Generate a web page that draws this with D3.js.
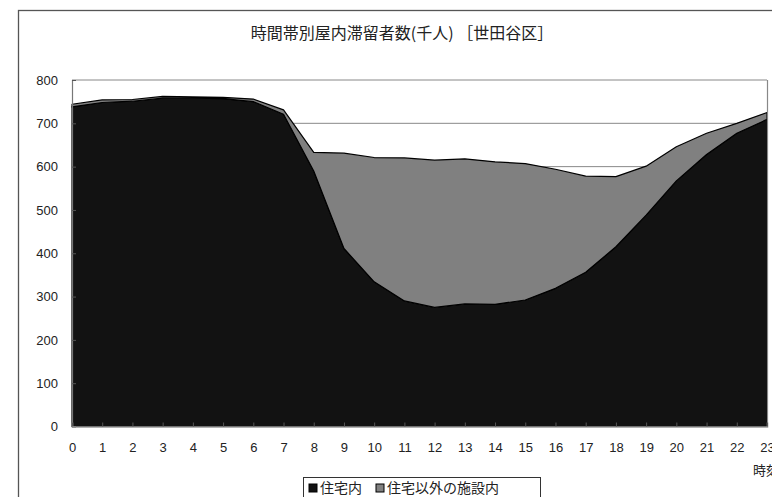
<!DOCTYPE html>
<html>
<head>
<meta charset="utf-8">
<script src="https://cdn.jsdelivr.net/npm/d3@7"></script>
<style>
  html, body { margin: 0; padding: 0; background: #fff; }
  svg { display: block; }
  text { font-family: "Liberation Sans", Arial, "Noto Sans CJK JP", sans-serif; fill: #222; }
  .jp { font-family: "Noto Sans CJK JP", sans-serif; }
</style>
</head>
<body>
<svg id="chart" width="772" height="497"></svg>
<script>
// Hours of the day (0-23)
const hours = [0,1,2,3,4,5,6,7,8,9,10,11,12,13,14,15,16,17,18,19,20,21,22,23];
// Persons indoors at home (thousands)
const atHome = [738,748,751,758,758,757,750,721,590,411,334,290,275,283,282,292,319,356,415,488,567,628,677,709];
// Persons indoors at facilities other than home (thousands)
const atOther = [6,6,4,4,3,3,6,10,43,220,287,330,340,335,329,315,275,222,162,113,79,49,23,16];
const yTicks = [0,100,200,300,400,500,600,700,800];
const seriesNames = ["住宅内", "住宅以外の施設内"];
const seriesColors = ["#121212", "#808080"];
const titleText = "時間帯別屋内滞留者数(千人) ［世田谷区］";
const xAxisTitle = "時刻";

const svg = d3.select("#chart");
const plot = { left: 72, top: 80, right: 767, bottom: 426.5 };

const x = d3.scaleLinear().domain([0, 23]).range([plot.left, plot.right]);
const y = d3.scaleLinear().domain([0, 800]).range([plot.bottom, plot.top]);

// outer chart frame
svg.append("rect")
  .attr("x", 18.5).attr("y", 10.5)
  .attr("width", 800).attr("height", 520)
  .attr("fill", "none").attr("stroke", "#555").attr("stroke-width", 1.3);

// title
svg.append("text")
  .attr("class", "jp")
  .attr("x", 402).attr("y", 39)
  .attr("text-anchor", "middle")
  .attr("font-size", 16)
  .attr("fill", "#333")
  .text(titleText);

// horizontal gridlines
svg.append("g").selectAll("line")
  .data(yTicks.filter(d => d > 0))
  .join("line")
  .attr("x1", plot.left).attr("x2", plot.right)
  .attr("y1", d => y(d)).attr("y2", d => y(d))
  .attr("stroke", "#888").attr("stroke-width", 1);

// stacked areas
const rows = hours.map((h, i) => ({ hour: h, home: atHome[i], other: atOther[i] }));
const stack = d3.stack().keys(["home", "other"]);
const layers = stack(rows);

const area = d3.area()
  .x(d => x(d.data.hour))
  .y0(d => y(d[0]))
  .y1(d => y(d[1]));

svg.append("g").selectAll("path")
  .data(layers)
  .join("path")
  .attr("d", area)
  .attr("fill", (d, i) => seriesColors[i])
  .attr("stroke", "#000")
  .attr("stroke-width", 1.2)
  .attr("stroke-linejoin", "round");

// plot frame (right side)
svg.append("line")
  .attr("x1", plot.right + 0.5).attr("x2", plot.right + 0.5)
  .attr("y1", plot.top).attr("y2", plot.bottom)
  .attr("stroke", "#888").attr("stroke-width", 1.2);

// y axis
const yAxis = d3.axisLeft(y).tickValues(yTicks).tickSize(-4).tickPadding(14);
const gy = svg.append("g").attr("transform", `translate(${plot.left},0)`).call(yAxis);
gy.select(".domain").attr("stroke", "#777").attr("stroke-width", 1.2);
gy.selectAll(".tick line").attr("stroke", "#555");
gy.selectAll(".tick text").attr("font-size", 13).attr("fill", "#222")
  .attr("font-family", "'Liberation Sans', Arial, sans-serif");

// x axis
const xAxis = d3.axisBottom(x).tickValues(hours).tickSize(-4).tickPadding(16);
const gx = svg.append("g").attr("transform", `translate(0,${plot.bottom})`).call(xAxis);
gx.select(".domain").attr("stroke", "#999").attr("stroke-width", 1.5);
gx.selectAll(".tick line").attr("stroke", "#555");
gx.selectAll(".tick text").attr("font-size", 13).attr("fill", "#222")
  .attr("font-family", "'Liberation Sans', Arial, sans-serif");

// x axis title
svg.append("text")
  .attr("class", "jp")
  .attr("x", 753).attr("y", 475)
  .attr("font-size", 13)
  .text(xAxisTitle);

// legend
const legend = svg.append("g").attr("transform", "translate(303,477)");
legend.append("rect")
  .attr("x", 0.5).attr("y", 0.5).attr("width", 237).attr("height", 30)
  .attr("fill", "#fff").attr("stroke", "#333").attr("stroke-width", 1);
const itemX = [6, 73];
seriesNames.forEach((name, i) => {
  legend.append("rect")
    .attr("x", itemX[i]).attr("y", 7)
    .attr("width", 8).attr("height", 8)
    .attr("fill", seriesColors[i]).attr("stroke", "#000").attr("stroke-width", 1);
  legend.append("text")
    .attr("class", "jp")
    .attr("x", itemX[i] + 11).attr("y", 16)
    .attr("font-size", 14)
    .text(name);
});
</script>
</body>
</html>
